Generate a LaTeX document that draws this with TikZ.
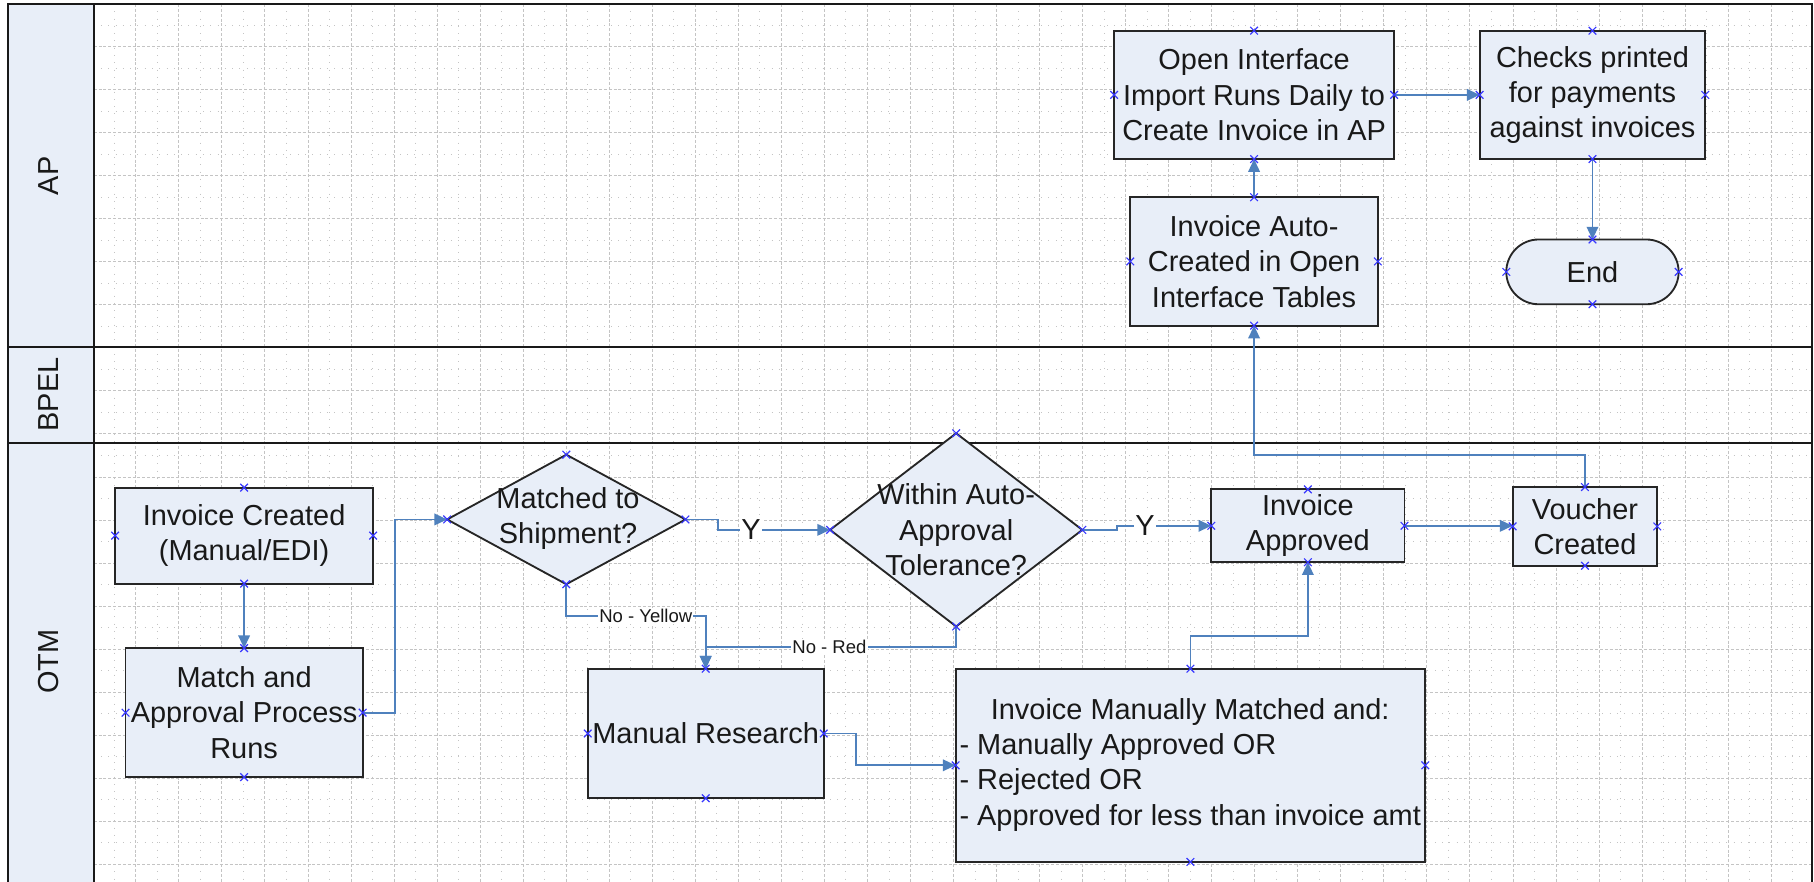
\documentclass[tikz,border=0pt]{standalone}
\usepackage{fontspec}
\setmainfont{Liberation Sans}
\usetikzlibrary{arrows.meta,shapes.geometric,calc}
\definecolor{nodefill}{RGB}{232,238,248}
\definecolor{conblue}{RGB}{79,129,189}
\definecolor{ptblue}{RGB}{55,55,255}
\definecolor{gridgray}{RGB}{196,196,196}
\definecolor{txt}{RGB}{25,25,25}
\newcommand\cpt[1]{\draw[ptmark] ($(#1)+(-3.3,-3.3)$) -- ($(#1)+(3.3,3.3)$) ($(#1)+(-3.3,3.3)$) -- ($(#1)+(3.3,-3.3)$);}
\begin{document}
\begin{tikzpicture}[x=0.5pt,y=-0.5pt,
  box/.style={draw=black!85, line width=0.8pt, fill=nodefill, inner sep=0pt, outer sep=0pt,
    align=center, text=txt, font=\fontsize{12.5}{15.25}\selectfont},
  dia/.style={box, diamond},
  conn/.style={draw=conblue, line width=0.75pt, -{Triangle[length=5.5pt,width=5pt]}},
  ylab/.style={fill=white, inner sep=0.6pt, text=txt, font=\fontsize{12.5}{15}\selectfont},
  nlab/.style={fill=white, inner sep=0.5pt, text=txt, font=\fontsize{8}{9}\selectfont},
  lanelab/.style={rotate=90, text=txt, font=\fontsize{12.5}{15}\selectfont},
  majorgrid/.style={draw=gridgray, line width=0.4pt, dash pattern=on 1.3pt off 0.8pt},
  minorgrid/.style={draw=gridgray, line width=0.4pt, dash pattern=on 0.4pt off 2.75pt},
  lane/.style={draw=black!90, line width=1pt},
  ptmark/.style={draw=ptblue, line width=0.5pt}]
\useasboundingbox (0,0) rectangle (1568,762);
% grid
\begin{scope}
\clip (81,3.5) rectangle (1566,762);
\foreach \i in {0,...,39} {\draw[minorgrid] ({98.8+37.2*\i},3.5) -- ({98.8+37.2*\i},762);}
\foreach \i in {1,...,39} {\draw[majorgrid] ({80.2+37.2*\i},3.5) -- ({80.2+37.2*\i},762);}
\foreach \k in {0,...,20} {\draw[minorgrid] (81,{21.7+37.2*\k}) -- (1566,{21.7+37.2*\k});}
\foreach \k in {1,...,20} {\draw[majorgrid] (81,{3.1+37.2*\k}) -- (1566,{3.1+37.2*\k});}
\end{scope}
% lanes
\fill[nodefill] (7,3.5) rectangle (81,762);
\draw[lane] (7,762) -- (7,3.5) -- (1566,3.5) -- (1566,762);
\draw[lane] (81,3.5) -- (81,762);
\draw[lane] (7,300) -- (1566,300);
\draw[lane] (7,383) -- (1566,383);
\node[lanelab] (lap) at (42,152) {AP};
\node[lanelab] (lbpel) at (42,341) {BPEL};
\node[lanelab] (lotm) at (42,572) {OTM};
% nodes
\node[box, minimum width=111.5pt, minimum height=41.5pt] (ic) at (211,463) {Invoice Created\\(Manual/EDI)};
\node[box, minimum width=102.5pt, minimum height=55.75pt] (map) at (211,616) {Match and\\Approval Process\\Runs};
\node[dia, minimum width=103pt, minimum height=56pt] (d1) at (489.5,449) {};
\node[text=txt, align=center, font=\fontsize{12.5}{15.25}\selectfont] (d1t) at (491,448) {Matched to\\Shipment?};
\node[dia, minimum width=109pt, minimum height=83.5pt] (d2) at (826.5,458) {};
\node[text=txt, align=center, font=\fontsize{12.5}{15.25}\selectfont] (d2t) at (826.5,458) {Within Auto-\\Approval\\Tolerance?};
\node[box, minimum width=102pt, minimum height=56pt] (mr) at (610,634) {Manual Research};
\node[box, minimum width=203pt, minimum height=83.5pt] (imm) at (1029,661.5) {};
\node[anchor=west, inner sep=0pt, text=txt, font=\fontsize{12.5}{15.25}\selectfont] (immt) at (829,661.5)
  {\begin{tabular}{@{}l@{}}\multicolumn{1}{@{}c@{}}{Invoice Manually Matched and:}\\- Manually Approved OR\\- Rejected OR\\- Approved for less than invoice amt\end{tabular}};
\node[box, minimum width=83.5pt, minimum height=31.5pt] (ia) at (1130.5,454.5) {Invoice\\Approved};
\node[box, minimum width=62.5pt, minimum height=34pt] (vc) at (1370,455) {Voucher\\Created};
\node[box, minimum width=121pt, minimum height=55.5pt] (oi) at (1084,82) {Open Interface\\Import Runs Daily to\\Create Invoice in AP};
\node[box, minimum width=97.5pt, minimum height=55.5pt] (chk) at (1376.5,82) {Checks printed\\for payments\\against invoices};
\node[box, minimum width=107pt, minimum height=55.5pt] (auto) at (1084,226) {Invoice Auto-\\Created in Open\\Interface Tables};
\node[box, rounded corners=14pt, minimum width=74.5pt, minimum height=28pt] (end) at (1376.5,235) {End};
% connectors
\draw[conn] (ic.south) -- (map.north);
\draw[conn] (map.east) -- ++(28,0) |- (d1.west);
\draw[conn] (d1.east) -- ++(28,0) |- (d2.west) node[ylab, pos=0.648] (y1) {Y};
\draw[conn] (d2.east) -- ++(30,0) |- (ia.west) node[ylab, pos=0.648] (y2) {Y};
\draw[conn] (ia.east) -- (ia.east -| vc.west);
\draw[conn] (vc.north) -- ++(0,-28) -| (auto.south);
\draw[conn] (auto.north) -- (auto.north |- oi.south);
\draw[conn] (oi.east) -- (chk.west);
\draw[conn] (chk.south) -- (end.north);
\draw[conn] (d1.south) -- ++(0,27.5) -| (mr.north) node[nlab, pos=0.285] (ny) {No - Yellow};
\draw[conn] (d2.south) -- ++(0,17.5) -| (mr.north) node[nlab, pos=0.253] (nr) {No - Red};
\draw[conn] (mr.east) -- ++(28,0) |- (imm.west);
\draw[conn] (imm.north) -- ++(0,-28) -| (ia.south);
% connection points
\foreach \n in {ic,map,mr,ia,vc,oi,chk,auto,end,d1,d2,imm}
  \foreach \a in {north,south,east,west} {\cpt{\n.\a}}
\end{tikzpicture}
\end{document}
